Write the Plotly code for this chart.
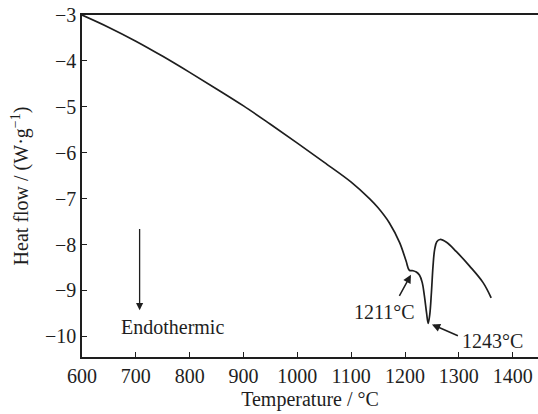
import plotly.graph_objects as go

# DSC heating curve
temperature = [600, 650, 700, 750, 800, 850, 900, 950, 1000, 1050, 1100, 1134,
               1150, 1171, 1190, 1202, 1208, 1215, 1221, 1227, 1232, 1236, 1240,
               1243, 1246, 1249, 1252, 1255, 1259, 1265, 1277, 1295, 1320, 1345, 1360]
heat_flow = [-3.00, -3.27, -3.57, -3.90, -4.25, -4.61, -4.98, -5.38, -5.79, -6.21,
             -6.64, -7.00, -7.20, -7.53, -7.96, -8.36, -8.56, -8.57, -8.60, -8.67,
             -8.83, -9.12, -9.49, -9.72, -9.52, -9.05, -8.47, -8.11, -7.94, -7.89,
             -7.95, -8.15, -8.47, -8.83, -9.16]

x_ticks = [600, 700, 800, 900, 1000, 1100, 1200, 1300, 1400]
y_ticks = [-3, -4, -5, -6, -7, -8, -9, -10]

peak_labels = ["1211°C", "1243°C"]

FONT = "Liberation Serif"
INK = "#1e1e1e"

fig = go.Figure()
fig.add_trace(go.Scatter(
    x=temperature, y=heat_flow, mode="lines",
    line=dict(color=INK, width=1.7, shape="spline", smoothing=1.0),
    hoverinfo="skip", showlegend=False,
))

# peak markers: arrows pointing at the curve, labels beside them
fig.add_annotation(x=1211, y=-8.66, ax=1188, ay=-9.15, xref="x", yref="y",
                   axref="x", ayref="y", text="", showarrow=True,
                   arrowhead=2, arrowsize=1.1, arrowwidth=1.5, arrowcolor=INK)
fig.add_annotation(x=1162, y=-9.46, text=peak_labels[0], showarrow=False,
                   font=dict(family=FONT, size=20, color=INK))
fig.add_annotation(x=1250, y=-9.74, ax=1301, ay=-10.0, xref="x", yref="y",
                   axref="x", ayref="y", text="", showarrow=True,
                   arrowhead=2, arrowsize=1.1, arrowwidth=1.5, arrowcolor=INK)
fig.add_annotation(x=1363, y=-10.11, text=peak_labels[1], showarrow=False,
                   font=dict(family=FONT, size=20, color=INK))

# endothermic direction
fig.add_annotation(x=707, y=-9.43, ax=707, ay=-7.63, xref="x", yref="y",
                   axref="x", ayref="y", text="", showarrow=True,
                   arrowhead=2, arrowsize=1.1, arrowwidth=1.3, arrowcolor=INK)
fig.add_annotation(x=768, y=-9.80, text="Endothermic", showarrow=False,
                   font=dict(family=FONT, size=20, color=INK))

axis_common = dict(
    showline=True, linecolor=INK, linewidth=1.5,
    ticks="inside", ticklen=5, tickwidth=1.3, tickcolor=INK,
    showgrid=False, zeroline=False,
    tickfont=dict(family=FONT, size=20, color=INK),
)

fig.update_layout(
    width=538, height=414,
    margin=dict(l=82, r=0, t=15, b=57),
    paper_bgcolor="white", plot_bgcolor="white",
    xaxis=dict(range=[600, 1447], tickvals=x_ticks, mirror=True,
               title=dict(text="Temperature / °C", standoff=6,
                          font=dict(family=FONT, size=20, color=INK)),
               **axis_common),
    yaxis=dict(range=[-10.45, -3], tickvals=y_ticks,
               title=dict(text="Heat flow / (W·g<sup>−1</sup>)", standoff=11,
                          font=dict(family=FONT, size=20, color=INK)),
               **axis_common),
)

fig.write_html("out.html")
